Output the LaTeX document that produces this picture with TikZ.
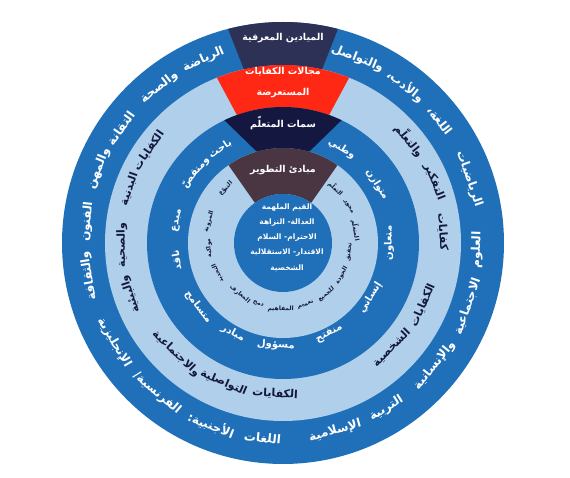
\documentclass[tikz,border=0pt]{standalone}
\usepackage{fontspec}
\newfontfamily\ar[Script=Arabic]{DejaVu Sans}
\TeXXeTstate=1
\newcommand\AR[1]{\ar\beginR #1\endR}
\definecolor{blueR}{RGB}{32,112,185}
\definecolor{lightR}{RGB}{176,207,234}
\definecolor{segDark}{RGB}{45,49,86}
\definecolor{segRed}{RGB}{255,40,20}
\definecolor{segNavy}{RGB}{20,23,64}
\definecolor{segBrown}{RGB}{74,54,66}
\definecolor{txtDark}{RGB}{20,25,60}
\newcommand\tw[5]{\node[#4, rotate={#1-90}] (#5) at (#1:#2) {\AR{#3}};}
\newcommand\bw[5]{\node[#4, rotate={#1+90}] (#5) at (#1:#2) {\AR{#3}};}
\tikzset{
  lbl/.style={inner sep=0pt},
  ringA/.style={lbl, text=white, font=\ar\bfseries\fontsize{12}{14}\selectfont},
  ringB/.style={lbl, text=txtDark, font=\ar\bfseries\fontsize{11}{13}\selectfont},
  ringC/.style={lbl, text=white, font=\ar\bfseries\fontsize{10}{12}\selectfont},
  ringD/.style={lbl, text=txtDark, font=\ar\bfseries\fontsize{6}{8}\selectfont},
  segtxt/.style={lbl, text=white, font=\ar\bfseries\fontsize{9.5}{11}\selectfont},
  core/.style={lbl, text=white, font=\ar\bfseries\fontsize{7.5}{9}\selectfont},
}
\begin{document}
\begin{tikzpicture}[x=1pt,y=1pt]
\useasboundingbox (-283,-235) rectangle (287,243);
% rings
\fill[blueR]  (0,0) circle (221);
\fill[lightR] (0,0) circle (178);
\fill[blueR]  (0,0) circle (136);
\fill[lightR] (0,0) circle (95);
% top segments
\fill[segDark] (75.6:221) arc[start angle=75.6, end angle=104.4, radius=221] -- (102.7:178) arc[start angle=102.7, end angle=77.3, radius=178] -- cycle;
\fill[segRed] (68.2:178) arc[start angle=68.2, end angle=111.8, radius=178] -- (109.8:136) arc[start angle=109.8, end angle=70.2, radius=136] -- cycle;
\fill[segNavy] (64.5:136) arc[start angle=64.5, end angle=115.5, radius=136] -- (106:95) arc[start angle=106, end angle=74, radius=95] -- cycle;
\fill[segBrown] (55:95) arc[start angle=55, end angle=125, radius=95] -- (125:49) arc[start angle=125, end angle=55, radius=49] -- cycle;
\fill[blueR]  (0,0) circle (49);
% segment titles
\node[segtxt] (s1) at (0,205) {\AR{الميادين المعرفية}};
\node[segtxt] (s2a) at (0,171) {\AR{مجالات الكفايات}};
\node[segtxt] (s2b) at (0,150) {\AR{المستعرضة}};
\node[segtxt] (s3) at (0,120) {\AR{سمات المتعلّم}};
\node[segtxt] (s4) at (0,73) {\AR{مبادئ التطوير}};
% core
\node[core] (c1) at (4,35) {\AR{القيم الملهمة}};
\node[core] (c2) at (4,20) {\AR{العدالة- النزاهة}};
\node[core] (c3) at (4,5) {\AR{الاحترام- السلام}};
\node[core] (c4) at (4,-10) {\AR{الاقتدار- الاستقلالية}};
\node[core] (c5) at (4,-25) {\AR{الشخصية}};
% ring A (outer)
\tw{38}{199}{اللغة،}{ringA}{a1}
\tw{52}{199}{والأدب،}{ringA}{a2}
\tw{68}{199}{والتواصل}{ringA}{a3}
\tw{19}{197}{الرياضيات}{ringA}{a4}
\tw{113.4}{200}{الرياضة}{ringA}{a5}
\tw{128.5}{199}{والصحة}{ringA}{a6}
\tw{144.7}{199}{التقانة}{ringA}{a7}
\tw{158}{199}{والمهن}{ringA}{a8}
\tw{173.8}{197}{الفنون}{ringA}{a9}
\tw{189.5}{197}{والثقافة}{ringA}{a10}
\bw{-2}{194}{العلوم}{ringA}{a11}
\bw{-19}{195}{الاجتماعية}{ringA}{a12}
\bw{-39}{195}{والإنسانية}{ringA}{a13}
\bw{-58}{195}{التربية}{ringA}{a14}
\bw{-74.5}{195}{الإسلامية}{ringA}{a15}
\bw{-96}{196}{اللغات}{ringA}{a16}
\bw{-111.5}{196}{الأجنبية:}{ringA}{a17}
\bw{-130}{196}{الفرنسية/}{ringA}{a18}
\bw{-149.5}{196}{الإنجليزية}{ringA}{a19}
% ring B
\tw{4}{160}{كفايات}{ringB}{b1}
\tw{22}{163}{التفكير}{ringB}{b2}
\tw{39}{163}{والتعلّم}{ringB}{b3}
\tw{145.4}{163}{الكفايات}{ringB}{b4}
\tw{160.7}{163}{البدنية}{ringB}{b5}
\tw{180.7}{161}{والصحية}{ringB}{b6}
\tw{198.5}{161}{والبيئية}{ringB}{b7}
\bw{-24}{153}{الكفايات}{ringB}{b8}
\bw{-44}{151}{الشخصية}{ringB}{b9}
\bw{-93}{151}{الكفايات}{ringB}{b10}
\bw{-113}{152}{التواصلية}{ringB}{b11}
\bw{-134}{154}{والاجتماعية}{ringB}{b12}
% ring C
\tw{58}{111}{وطني}{ringC}{d1}
\tw{32}{111}{متوازن}{ringC}{d2}
\bw{0}{106}{متعاون}{ringC}{d3}
\bw{-32}{103}{إنساني}{ringC}{d4}
\bw{-63}{102}{منفتح}{ringC}{d5}
\bw{-94}{102}{مسؤول}{ringC}{d6}
\bw{-119}{103}{مبادر}{ringC}{d7}
\bw{-143}{106}{متسامح}{ringC}{d8}
\tw{189}{108}{ناقد}{ringC}{d9}
\tw{168}{108}{مبدع}{ringC}{d10}
\tw{123.7}{113}{باحث}{ringC}{d11}
\tw{141}{112}{ومتقصّ}{ringC}{d12}
% ring D
\tw{10}{74}{المتعلّم}{ringD}{e1}
\tw{29}{75}{محور}{ringD}{e2}
\tw{46}{76}{التعلّم}{ringD}{e3}
\tw{136.5}{79}{التنوّع}{ringD}{e4}
\tw{164}{77}{المرونة}{ringD}{e5}
\tw{184}{74}{مواكبة}{ringD}{e6}
\tw{205}{72}{التجديد}{ringD}{e7}
\bw{-8}{67}{تحقيق}{ringD}{e8}
\bw{-29}{67}{الجودة}{ringD}{e9}
\bw{-50}{67}{للجميع}{ringD}{e10}
\bw{-70}{66}{تعميم}{ringD}{e11}
\bw{-92}{66}{المفاهيم}{ringD}{e12}
\bw{-112}{66}{دمج}{ringD}{e13}
\bw{-130}{67}{المعارف}{ringD}{e14}
\end{tikzpicture}
\end{document}
